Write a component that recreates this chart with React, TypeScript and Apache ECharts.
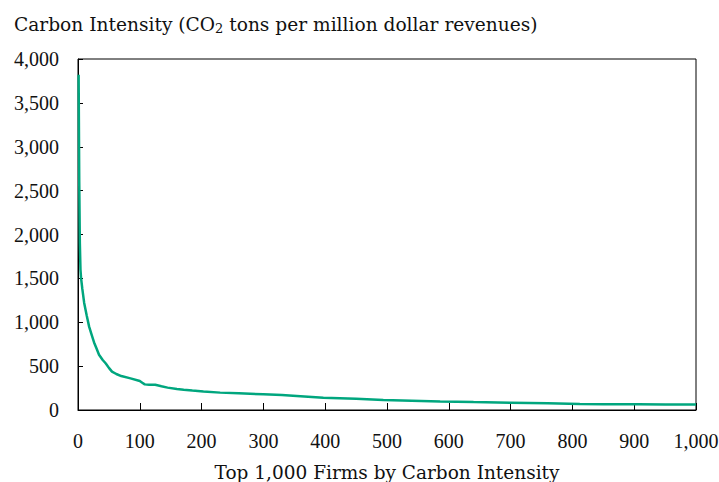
import React, { useEffect, useRef } from "react";
import * as echarts from "echarts";

const firmRanks = [1, 2, 3, 4, 5, 7, 10, 14, 18, 22, 26, 30, 34, 40, 45, 50, 55, 62, 70, 85, 100, 104, 108, 115, 125, 135, 145, 160, 171, 185, 203, 230, 260, 300, 330, 360, 397, 450, 494, 540, 586, 640, 700, 760, 812, 850, 906, 950, 1000];
const carbonIntensity = [3820, 2600, 1900, 1600, 1500, 1380, 1220, 1080, 950, 860, 770, 700, 630, 570, 530, 480, 437, 410, 387, 360, 330, 310, 292, 289, 287, 270, 255, 240, 231, 222, 212, 198, 190, 179, 170, 158, 140, 128, 114, 106, 97, 90, 83, 76, 68, 65, 65, 64, 64];
const xTicks = [0, 100, 200, 300, 400, 500, 600, 700, 800, 900, 1000];
const yTicks = [0, 500, 1000, 1500, 2000, 2500, 3000, 3500, 4000];

const NUM_FONT = "'Liberation Serif', serif";
const TEXT_FONT = "'DejaVu Serif', serif";

export default function App() {
  const ref = useRef<HTMLDivElement>(null);
  useEffect(() => {
    if (!ref.current) return;
    const chart = echarts.init(ref.current, undefined, { renderer: "svg" });
    const fmt = (v: number) => v.toLocaleString("en-US");
    chart.setOption({
      animation: false,
      backgroundColor: "#fff",
      title: {
        text: "Carbon Intensity (CO{sub|2} tons per million dollar revenues)",
        left: 9,
        top: 8,
        textStyle: {
          fontFamily: TEXT_FONT,
          fontSize: 18.6,
          fontWeight: "normal",
          color: "#111",
          rich: {
            sub: { fontFamily: TEXT_FONT, fontSize: 13, color: "#111", padding: [9, 0, 0, 0] },
          },
        },
      },
      grid: {
        left: 78,
        right: 23,
        top: 59,
        bottom: 72,
        containLabel: false,
        outerBoundsMode: "none",
        show: true,
        borderColor: "#000",
        borderWidth: 1,
        backgroundColor: "transparent",
      },
      xAxis: {
        type: "value",
        min: xTicks[0],
        max: xTicks[xTicks.length - 1],
        interval: 100,
        name: "Top 1,000 Firms by Carbon Intensity",
        nameLocation: "middle",
        nameGap: 53,
        nameTextStyle: { fontFamily: TEXT_FONT, fontSize: 18.5, color: "#111", verticalAlign: "top" },
        axisLine: { show: true, lineStyle: { color: "#000", width: 1 } },
        axisTick: { show: true, inside: true, length: 7, lineStyle: { color: "#000" } },
        axisLabel: { fontFamily: NUM_FONT, fontSize: 20, color: "#111", margin: 21, formatter: fmt },
        splitLine: { show: false },
      },
      yAxis: {
        type: "value",
        min: yTicks[0],
        max: yTicks[yTicks.length - 1],
        interval: 500,
        axisLine: { show: true, lineStyle: { color: "#000", width: 1 } },
        axisTick: { show: true, inside: true, length: 5, lineStyle: { color: "#000" } },
        axisLabel: { fontFamily: NUM_FONT, fontSize: 20, color: "#111", margin: 19, formatter: fmt },
        splitLine: { show: false },
      },
      series: [
        {
          type: "line",
          data: firmRanks.map((r, i) => [r, carbonIntensity[i]]),
          showSymbol: false,
          symbol: "none",
          lineStyle: { color: "#00a67e", width: 2.5 },
        },
      ],
    });
    return () => chart.dispose();
  }, []);
  return <div ref={ref} style={{ position: "absolute", left: 0, top: 0, width: 719, height: 482 }} />;
}
